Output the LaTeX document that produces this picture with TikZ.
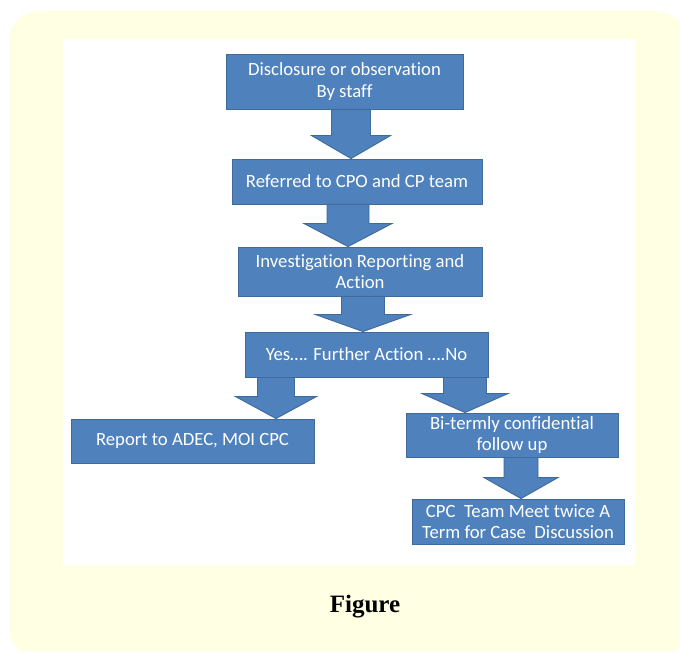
\documentclass[tikz,border=0pt]{standalone}
\usepackage{fontspec}
\setmainfont[Ligatures=NoCommon]{Carlito}
\newfontfamily\capfont{Liberation Serif}
\usetikzlibrary{calc}
\definecolor{boxblue}{HTML}{4F81BD}
\definecolor{boxedge}{HTML}{3F6A9A}
\definecolor{paneyellow}{HTML}{FFFFE4}
\tikzset{
  flowbox/.style={draw=boxedge, fill=boxblue, line width=0.9pt, text=white,
    inner sep=0pt, align=center, font=\fontsize{18.7}{21.5}\selectfont},
  arr/.style={draw=boxedge, fill=boxblue, line width=0.9pt, line join=miter}
}
\newcommand\blockarr[6]{%
  \path[arr] let \p1=(#1.south), \p2=(#2.north) in
    ({#3pt-#4pt},\y1) -- ({#3pt-#4pt},{\y2+#6pt}) -- ({#3pt-#5pt},{\y2+#6pt})
    -- (#3pt,\y2) -- ({#3pt+#5pt},{\y2+#6pt}) -- ({#3pt+#4pt},{\y2+#6pt})
    -- ({#3pt+#4pt},\y1) -- cycle;}
\begin{document}
\begin{tikzpicture}[x=1pt,y=-1pt]
\useasboundingbox (0,0) rectangle (680,652);
\fill[paneyellow, rounded corners=30pt] (9,11) rectangle (686,658);
\fill[white] (63,39) rectangle (635,565);

\node[flowbox, minimum width=237pt, minimum height=55pt] (b1) at (344.5,81.5)
  {Disclosure or observation\\By staff};
\node[flowbox, minimum width=250pt, minimum height=45pt] (b2) at (357,181.5)
  {Referred to CPO and CP team};
\node[flowbox, minimum width=244pt, minimum height=49pt] (b3) at (360,271.5)
  {Investigation Reporting and\\Action};
\node[flowbox, minimum width=243pt, minimum height=45pt] (b4) at (366.5,354.5)
  {Yes…. Further Action ….No};
\node[flowbox, minimum width=243pt, minimum height=44pt] (b5) at (192.5,441)
  {Report to ADEC, MOI CPC};
\node[flowbox, minimum width=212pt, minimum height=44pt] (b6) at (512,435)
  {Bi-termly confidential\\follow up};
\node[flowbox, minimum width=212pt, minimum height=45pt] (b7) at (518,521.5)
  {CPC\ \ Team Meet twice A\\Term for Case\ \ Discussion};

\blockarr{b1}{b2}{351}{19.5}{39.5}{23}
\blockarr{b2}{b3}{348}{21}{44}{23}
\blockarr{b3}{b4}{363}{21.5}{47.5}{17}
\blockarr{b4}{b5}{276}{18.5}{40.5}{22}
\blockarr{b4}{b6}{465}{21.5}{43}{19}
\blockarr{b6}{b7}{521}{17}{37}{21}

\node[font=\capfont\bfseries\fontsize{25}{29}\selectfont] (cap) at (365,607) {Figure};
\end{tikzpicture}
\end{document}
